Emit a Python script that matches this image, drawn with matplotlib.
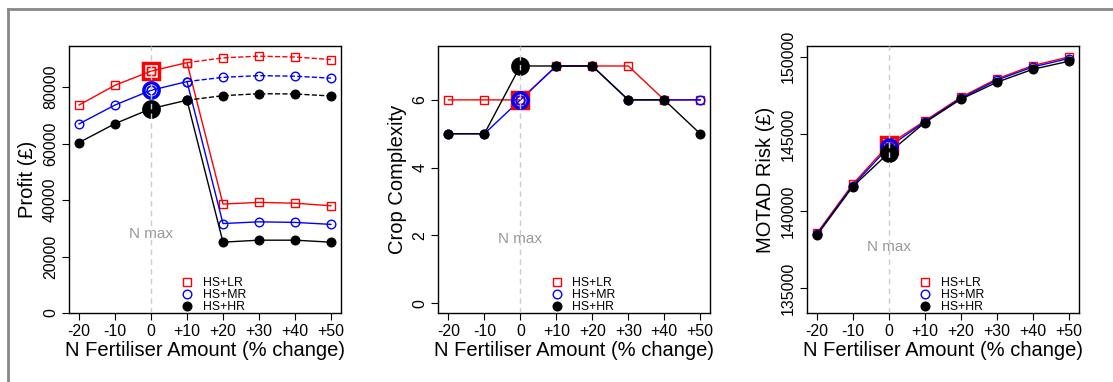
import matplotlib.pyplot as plt
from matplotlib.lines import Line2D

plt.rcParams['font.family'] = ['Liberation Sans', 'DejaVu Sans']

# N fertiliser change (%)
n_change = [-20, -10, 0, 10, 20, 30, 40, 50]
n_labels = ['-20', '-10', '0', '+10', '+20', '+30', '+40', '+50']
series = ['HS+LR', 'HS+MR', 'HS+HR']

# profit: upper branch (-20..+50) and lower branch after the drop (+20..+50)
profit_lr = [73700, 80700, 85700, 88700, 90400, 91000, 90700, 89800]
profit_mr = [67000, 73700, 78900, 82000, 83500, 84100, 83900, 83200]
profit_hr = [60400, 67100, 72400, 75400, 77000, 77700, 77600, 76900]
profit_lr_low = [38600, 39200, 38900, 38000]
profit_mr_low = [31700, 32300, 32100, 31400]
profit_hr_low = [25100, 25800, 25800, 25100]

# crop complexity
cc_lr = [6, 6, 6, 7, 7, 7, 6, 6]
cc_mr = [5, 5, 6, 7, 7, 6, 6, 6]
cc_hr = [5, 5, 7, 7, 7, 6, 6, 5]

# MOTAD risk
risk_lr = [138560, 141750, 144310, 145840, 147370, 148560, 149420, 149980]
risk_mr = [138500, 141650, 144150, 145780, 147300, 148480, 149330, 149880]
risk_hr = [138430, 141590, 143770, 145730, 147240, 148340, 149180, 149700]

colors = ['red', 'blue', 'black']
marks = ['s', 'o', 'o']
faces = ['none', 'none', 'black']
ms = 6.2
big_ms = 11

fig = plt.figure(figsize=(11.13, 3.82), dpi=100)

# grey frame around the figure
fig.add_artist(Line2D([8 / 1113, 1], [1 - 9 / 382, 1 - 9 / 382], color='#888888', lw=2))
fig.add_artist(Line2D([8 / 1113, 8 / 1113], [0, 1 - 9 / 382], color='#888888', lw=2))

lefts = [69, 438.3, 806.7]
axes = [fig.add_axes([l / 1113, 69 / 382, 272 / 1113, 267 / 382]) for l in lefts]


def style(ax, ylabel, ylim, yticks, nmax_y):
    ax.set_xlim(-22.8, 52.8)
    ax.set_ylim(*ylim)
    ax.set_xticks(n_change)
    ax.set_xticklabels(n_labels, fontsize=11.5)
    ax.set_yticks(yticks)
    ax.set_yticklabels([str(t) for t in yticks], fontsize=11.5, rotation=90, va='center')
    ax.tick_params(length=5, width=0.8, pad=3)
    ax.set_xlabel('N Fertiliser Amount (% change)', fontsize=14.5, labelpad=1)
    ax.set_ylabel(ylabel, fontsize=14.5, labelpad=4)
    for s in ax.spines.values():
        s.set_linewidth(1.0)
    ax.axvline(0, color='#cccccc', ls='--', lw=1, dashes=(4, 3), zorder=5)
    ax.text(0, nmax_y, 'N max', color='#999999', ha='center', va='center', fontsize=11)
    handles = [Line2D([], [], color=c, marker=m, markerfacecolor=f, ls='none', markersize=ms, mew=1)
               for c, m, f in zip(colors, marks, faces)]
    ax.legend(handles, series, loc='lower center', bbox_to_anchor=(0.53, -0.02), frameon=False,
              fontsize=8.8, handletextpad=0.7, labelspacing=0.0, handlelength=1.2,
              borderaxespad=0.25, borderpad=0.2)


def plot_series(ax, x, y, c, m, f, ls='-'):
    ax.plot(x, y, color=c, ls=ls, lw=1, marker=m, markerfacecolor=f, markersize=ms, mew=1)


def big_marker(ax, y, c, m, f):
    ax.plot([0], [y], color=c, marker=m, markerfacecolor=f, markersize=big_ms, mew=2.5, ls='none')
    if f == 'none':
        ax.plot([0], [y], color=c, marker=m, markerfacecolor='none', markersize=ms, mew=1, ls='none')


# profit
ax = axes[0]
uppers = [profit_lr, profit_mr, profit_hr]
lowers = [profit_lr_low, profit_mr_low, profit_hr_low]
for up, low, c, m, f in zip(uppers, lowers, colors, marks, faces):
    plot_series(ax, n_change[3:], up[3:], c, m, f, ls='--')
    plot_series(ax, n_change[:4] + n_change[4:], up[:4] + low, c, m, f)
    big_marker(ax, up[2], c, m, f)
style(ax, 'Profit (£)', (0, 94600), [0, 20000, 40000, 60000, 80000], 28000)

# crop complexity
ax = axes[1]
for y, c, m, f in zip([cc_lr, cc_mr, cc_hr], colors, marks, faces):
    plot_series(ax, n_change, y, c, m, f)
for y, c, m, f in zip([cc_lr, cc_mr, cc_hr], colors, marks, faces):
    big_marker(ax, y[2], c, m, f)
style(ax, 'Crop Complexity', (-0.29, 7.59), [0, 2, 4, 6], 1.9)

# MOTAD risk
ax = axes[2]
for y, c, m, f in zip([risk_lr, risk_mr, risk_hr], colors, marks, faces):
    plot_series(ax, n_change, y, c, m, f)
for y, c, m, f in zip([risk_lr, risk_mr, risk_hr], colors, marks, faces):
    big_marker(ax, y[2], c, m, f)
style(ax, 'MOTAD Risk (£)', (133410, 150690), [135000, 140000, 145000, 150000], 137700)

fig.savefig('out.png', dpi=100)
